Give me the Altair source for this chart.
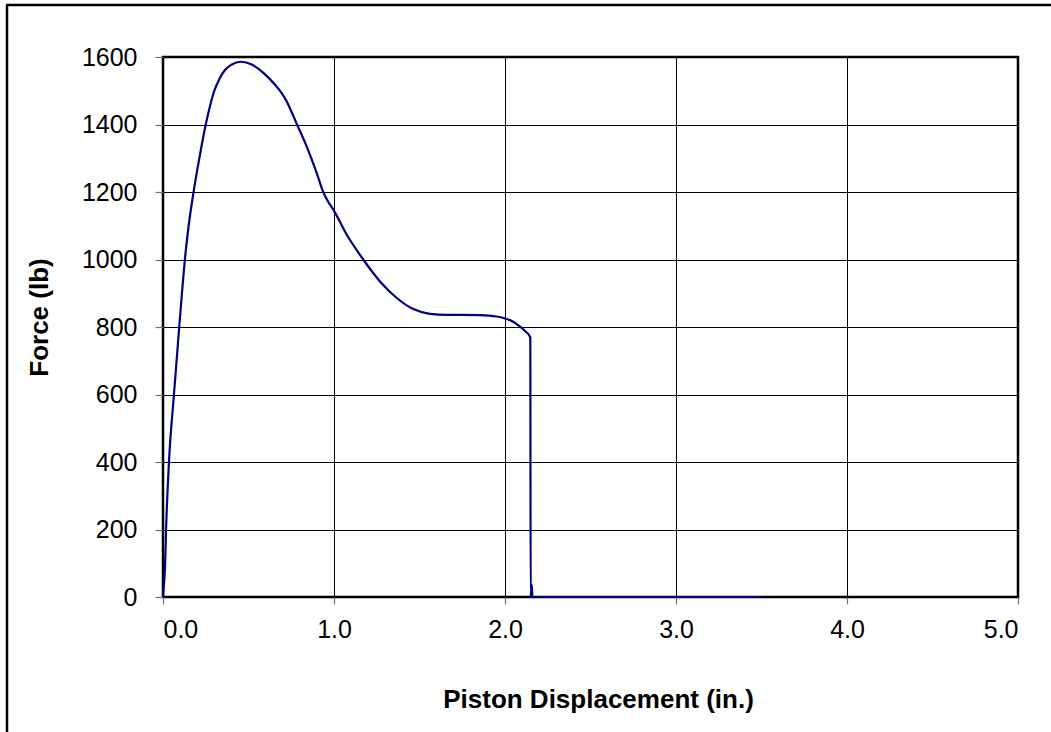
import altair as alt
import pandas as pd

# Values
displacement = [0.000, 0.006, 0.012, 0.018, 0.035, 0.064, 0.095, 0.110, 0.126, 0.150,
                0.175, 0.200, 0.225, 0.250, 0.275, 0.300, 0.330, 0.360, 0.400, 0.456,
                0.519, 0.587, 0.655, 0.690, 0.723, 0.752, 0.782, 0.840, 0.899, 0.937,
                0.965, 0.996, 1.074, 1.171, 1.269, 1.367, 1.464, 1.561, 1.659, 1.737,
                1.854, 1.950, 1.996, 2.050, 2.088, 2.120, 2.146, 2.148, 2.150, 2.157,
                2.160, 3.500]
force = [0, 40, 90, 200, 400, 600, 800, 895, 990, 1100,
         1188, 1265, 1335, 1400, 1455, 1500, 1535, 1560, 1577, 1586,
         1578, 1553, 1518, 1496, 1469, 1437, 1402, 1335, 1256, 1200,
         1172, 1148, 1074, 1000, 935, 886, 853, 839, 836, 836,
         835, 831, 826, 815, 801, 787, 771, 768, 0, 35,
         0, 0]

x_ticks = [0, 1, 2, 3, 4, 5]
y_ticks = [0, 200, 400, 600, 800, 1000, 1200, 1400, 1600]

df = pd.DataFrame({"disp": displacement, "force": force,
                   "order": list(range(len(displacement)))})

FONT = "Liberation Sans"

line = alt.Chart(df).mark_line(color="#000080", strokeWidth=2.2, clip=False,
                               interpolate="monotone").encode(
    x=alt.X("disp:Q",
            scale=alt.Scale(domain=[0, 5], nice=False, zero=False),
            axis=alt.Axis(values=x_ticks, format=".1f",
                          title="Piston Displacement (in.)",
                          titleX=435, titleY=110, titleBaseline="alphabetic",
                          titleAlign="center", labelPadding=13, tickSize=7)),
    y=alt.Y("force:Q",
            scale=alt.Scale(domain=[0, 1600], nice=False),
            axis=alt.Axis(values=y_ticks, format="d", title="Force (lb)",
                          titleX=-116, titleY=260, titleAngle=-90,
                          titleBaseline="alphabetic", titleAlign="center",
                          labelPadding=18, tickSize=8)),
    order="order:Q",
)

frame_df = pd.DataFrame({"a": [0]})
outer_left = alt.Chart(frame_df).mark_rule(color="black", strokeWidth=2.5).encode(
    x=alt.value(-156), y=alt.value(-52), y2=alt.value(700))
outer_top = alt.Chart(frame_df).mark_rule(color="black", strokeWidth=2.5).encode(
    x=alt.value(-157), x2=alt.value(900), y=alt.value(-52))

chart = alt.layer(outer_left, outer_top, line).properties(
    width=855, height=540,
    autosize="none",
    padding={"left": 163, "top": 57, "right": 33, "bottom": 135},
    background="white",
).configure_view(
    stroke="black", strokeWidth=2.5
).configure_axis(
    labelFont=FONT, titleFont=FONT, labelFontSize=25, titleFontSize=26,
    labelColor="black", titleColor="black", titleFontWeight="bold",
    grid=True, gridColor="black", gridWidth=1, gridOpacity=1,
    domain=False, tickColor="#707070", tickWidth=1.2,
)

chart.save("out.html", embed_options={"renderer": "svg", "actions": False})
